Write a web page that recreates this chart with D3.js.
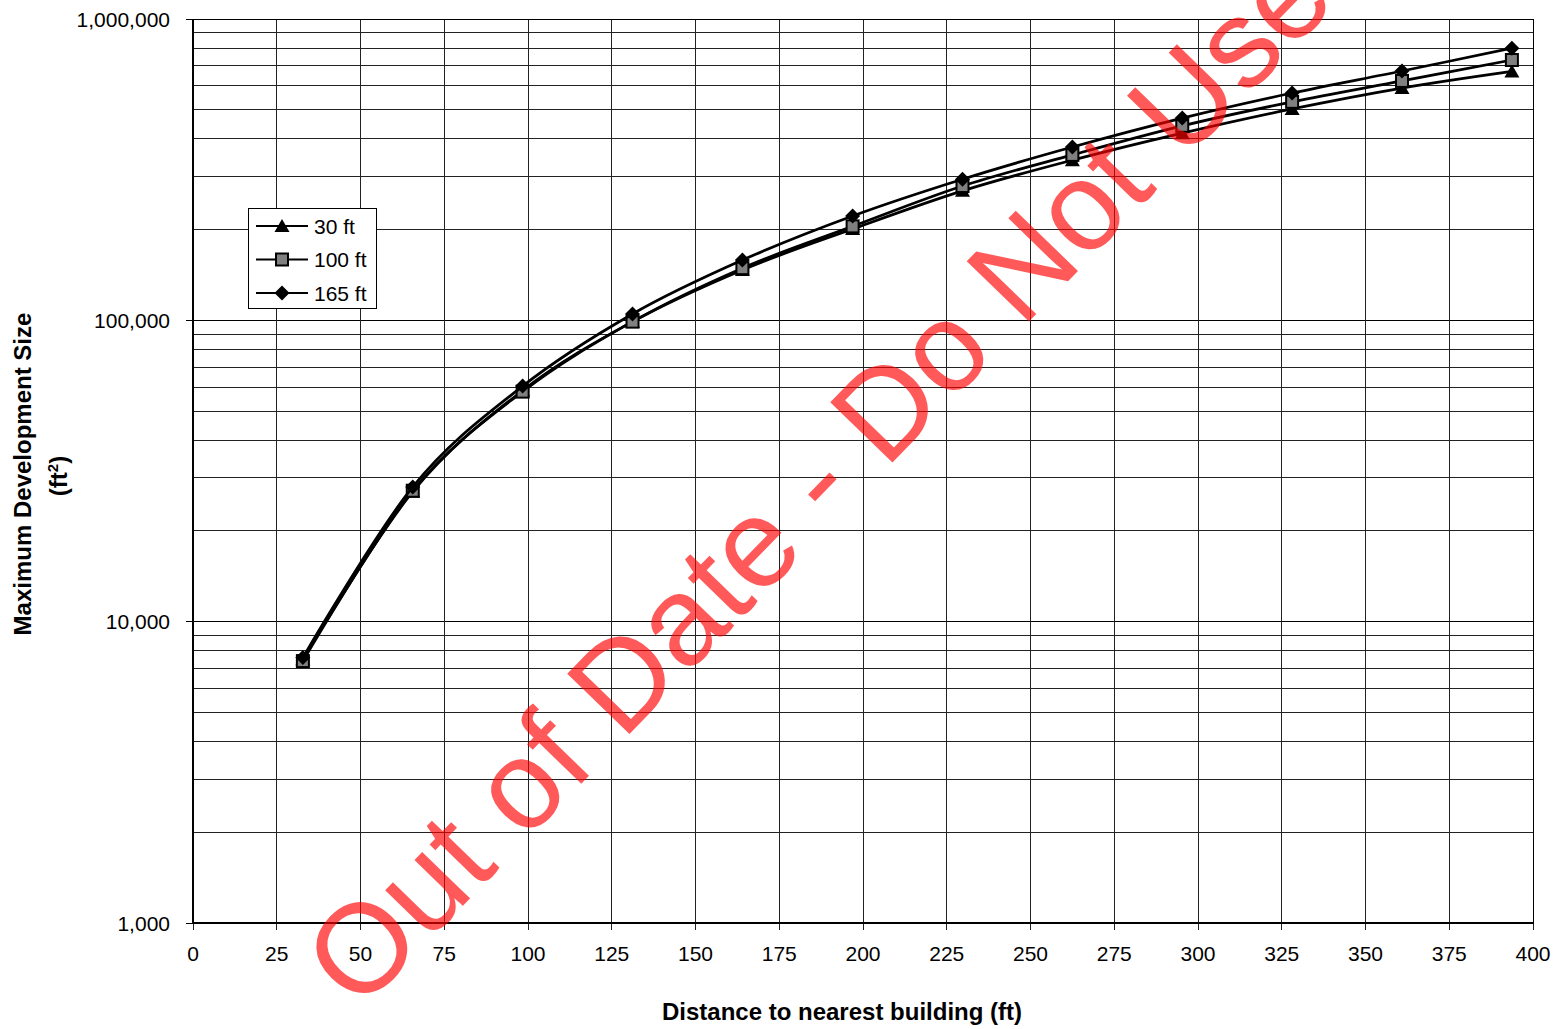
<!DOCTYPE html>
<html>
<head>
<meta charset="utf-8">
<script src="https://cdn.jsdelivr.net/npm/d3@7"></script>
<style>
  body { margin: 0; background: #fff; }
  text { font-family: Arial, "Liberation Sans", sans-serif; }
</style>
</head>
<body>
<div class="container"></div>
<script>
// chart size
var width = 1558;
var height = 1029;

// data (distance in ft, size in ft2)
var distances = [32.8, 65.6, 98.4, 131.2, 164.0, 196.9, 229.7, 262.5, 295.3, 328.1, 360.9, 393.7];
var size30 = [7500, 27000, 58500, 99000, 147000, 201000, 269000, 340000, 418000, 503000, 590000, 670000];
var size100 = [7400, 27200, 58000, 99000, 149000, 205000, 279000, 354000, 442000, 531000, 623000, 731000];
var size165 = [7600, 28000, 60500, 105000, 158500, 222000, 294000, 376000, 469000, 568000, 672000, 800000];
var seriesNames = ["30 ft", "100 ft", "165 ft"];
var markerTypes = ["triangle", "square", "diamond"];
var xTicks = d3.range(0, 401, 25);
var yMajor = [1000, 10000, 100000, 1000000];

var margin = {left: 193, right: 1533, top: 19, bottom: 923};

var svg = d3.select(".container").append("svg")
  .attr("width", width)
  .attr("height", height);

var x = d3.scaleLinear().domain([0, 400]).range([margin.left, margin.right]);
var y = d3.scaleLog().domain([1000, 1000000]).range([margin.bottom, margin.top]);

// minor log values
var yMinor = [];
[1000, 10000, 100000].forEach(function(d) {
  for (var k = 2; k <= 9; k++) yMinor.push(d * k);
});

var grid = svg.append("g").attr("shape-rendering", "crispEdges");
grid.selectAll(".minor").data(yMinor).enter().append("line")
  .attr("x1", margin.left).attr("x2", margin.right)
  .attr("y1", d => y(d)).attr("y2", d => y(d))
  .attr("stroke", "#222").attr("stroke-width", 1);
grid.selectAll(".major").data(yMajor).enter().append("line")
  .attr("x1", margin.left - 7).attr("x2", margin.right)
  .attr("y1", d => y(d)).attr("y2", d => y(d))
  .attr("stroke", "#000").attr("stroke-width", 1);
grid.selectAll(".vgrid").data(xTicks).enter().append("line")
  .attr("x1", d => x(d)).attr("x2", d => x(d))
  .attr("y1", margin.top).attr("y2", margin.bottom + 7)
  .attr("stroke", "#222").attr("stroke-width", 1);

// frame
grid.append("rect")
  .attr("x", margin.left).attr("y", margin.top)
  .attr("width", margin.right - margin.left).attr("height", margin.bottom - margin.top)
  .attr("fill", "none").attr("stroke", "#000");

// axis lines
grid.append("line").attr("x1", margin.left).attr("x2", margin.left)
  .attr("y1", margin.top).attr("y2", margin.bottom).attr("stroke", "#000").attr("stroke-width", 1.5);
grid.append("line").attr("x1", margin.left).attr("x2", margin.right)
  .attr("y1", margin.bottom).attr("y2", margin.bottom).attr("stroke", "#000").attr("stroke-width", 1.5);

svg.selectAll(".ylab").data(yMajor).enter().append("text")
  .attr("x", 170).attr("y", d => y(d) + 7.5)
  .attr("text-anchor", "end").attr("font-size", 21)
  .text(d => d3.format(",")(d));

svg.selectAll(".xlab").data(xTicks).enter().append("text")
  .attr("x", d => x(d)).attr("y", 960.5)
  .attr("text-anchor", "middle").attr("font-size", 21)
  .text(d => d);

svg.append("text").attr("x", 842).attr("y", 1020)
  .attr("text-anchor", "middle").attr("font-size", 24).attr("font-weight", "bold")
  .text("Distance to nearest building (ft)");

var yTitle = svg.append("text").attr("transform", "translate(31,474) rotate(-90)")
  .attr("text-anchor", "middle").attr("font-size", 24).attr("font-weight", "bold");
yTitle.append("tspan").attr("x", 0).attr("y", 0).text("Maximum Development Size");
yTitle.append("tspan").attr("x", -2).attr("y", 36).text("(ft");
yTitle.append("tspan").attr("dy", -9).attr("font-size", 15).text("2");
yTitle.append("tspan").attr("dy", 9).text(")");

// marker drawing
function drawMarker(g, type, cx, cy) {
  if (type == "triangle") {
    g.append("path").attr("d", "M" + cx + "," + (cy - 7) + "L" + (cx + 7.5) + "," + (cy + 6) + "L" + (cx - 7.5) + "," + (cy + 6) + "Z")
      .attr("fill", "#000");
  } else if (type == "square") {
    g.append("rect").attr("x", cx - 6).attr("y", cy - 6).attr("width", 12).attr("height", 12)
      .attr("fill", "#808080").attr("stroke", "#000").attr("stroke-width", 2);
  } else {
    g.append("path").attr("d", "M" + cx + "," + (cy - 7.5) + "L" + (cx + 7.5) + "," + cy + "L" + cx + "," + (cy + 7.5) + "L" + (cx - 7.5) + "," + cy + "Z")
      .attr("fill", "#000");
  }
}

var allSeries = [size30, size100, size165];
var line = d3.line()
  .x(d => x(d[0])).y(d => y(d[1]))
  .curve(d3.curveCardinal.tension(0));

var plot = svg.append("g");
allSeries.forEach(function(vals, i) {
  var pts = distances.map((d, j) => [d, vals[j]]);
  var g = plot.append("g");
  g.append("path").datum(pts).attr("d", line)
    .attr("fill", "none").attr("stroke", "#000").attr("stroke-width", 2.75);
  pts.forEach(function(p) { drawMarker(g, markerTypes[i], x(p[0]), y(p[1])); });
});

// legend
var legend = svg.append("g");
legend.append("rect").attr("x", 248.5).attr("y", 208.5).attr("width", 128).attr("height", 100)
  .attr("fill", "#fff").attr("stroke", "#000").attr("stroke-width", 1);
seriesNames.forEach(function(name, i) {
  var ly = 226 + i * 33.5;
  legend.append("line").attr("x1", 256).attr("x2", 308).attr("y1", ly).attr("y2", ly)
    .attr("stroke", "#000").attr("stroke-width", 2);
  drawMarker(legend, markerTypes[i], 282, ly);
  legend.append("text").attr("x", 314).attr("y", ly + 7.5).attr("font-size", 21).text(name);
});

// watermark
svg.append("text")
  .attr("transform", "translate(359,1013) rotate(-45.9)")
  .attr("font-size", 126)
  .attr("fill", "#ff0000").attr("fill-opacity", 0.65)
  .text("Out of Date - Do Not Use");
</script>
</body>
</html>
